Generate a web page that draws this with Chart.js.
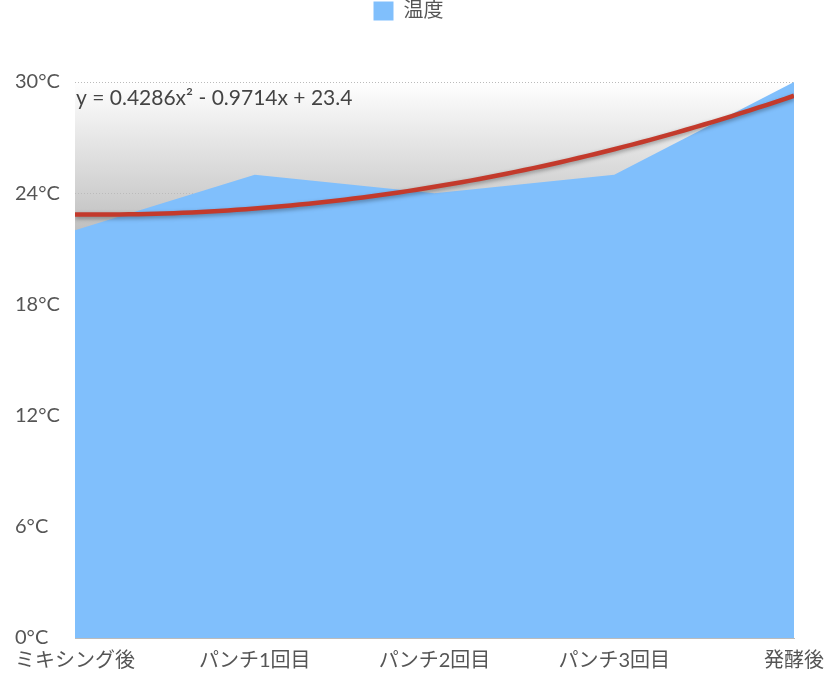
<!DOCTYPE html>
<html>
<head>
<meta charset="utf-8">
<script src="https://cdn.jsdelivr.net/npm/chart.js@4/dist/chart.umd.min.js"></script>
<style>
    html, body { margin: 0; padding: 0; background: #fff; }
    #wrap { width: 825px; height: 679px; }
</style>
</head>
<body>
<div id="wrap"><canvas id="grafico"></canvas></div>
<script>
const categorias = ["ミキシング後", "パンチ1回目", "パンチ2回目", "パンチ3回目", "発酵後"];
const temperaturas = [22, 25, 24, 25, 30];
const yTicks = [0, 6, 12, 18, 24, 30];
// coeficientes da linha de tendência mostrada no gráfico: a*x^2 + b*x + c
const tendencia = [0.4286, -0.9714, 23.4];
const textoTendencia = "y = 0.4286x² - 0.9714x + 23.4";

const fonte = "Lato, 'Noto Sans CJK JP', sans-serif";

const pontosTendencia = [];
for (let i = 0; i <= 80; i++) {
    const x = 1 + i * 0.05;
    pontosTendencia.push({ x, y: tendencia[0] * x * x + tendencia[1] * x + tendencia[2] });
}

const fundoGradiente = {
    id: "fundoGradiente",
    beforeDraw(chart) {
        const { ctx, chartArea, scales } = chart;
        const topo = scales.y.getPixelForValue(30);
        const base = scales.y.getPixelForValue(21);
        const grad = ctx.createLinearGradient(0, topo, 0, base);
        grad.addColorStop(0, "#ffffff");
        grad.addColorStop(0.15, "#f4f4f4");
        grad.addColorStop(1, "#b8b8b8");
        ctx.save();
        ctx.fillStyle = grad;
        ctx.fillRect(chartArea.left, topo, chartArea.right - chartArea.left, chartArea.bottom - topo);
        ctx.restore();
    }
};

const sombraLinha = {
    id: "sombraLinha",
    beforeDatasetDraw(chart, args) {
        if (args.index !== 1) return;
        const ctx = chart.ctx;
        ctx.save();
        ctx.shadowColor = "rgba(0, 0, 0, 0.35)";
        ctx.shadowBlur = 4;
        ctx.shadowOffsetY = 2;
    },
    afterDatasetDraw(chart, args) {
        if (args.index !== 1) return;
        chart.ctx.restore();
    },
    afterDatasetsDraw(chart) {
        const { ctx, chartArea } = chart;
        ctx.save();
        ctx.font = "21px " + fonte;
        ctx.fillStyle = "#444";
        ctx.textBaseline = "middle";
        ctx.fillText(textoTendencia, chartArea.left + 1, chartArea.top + 16);
        ctx.restore();
    }
};

const alturaLegenda = {
    id: "alturaLegenda",
    beforeInit(chart) {
        const fitOriginal = chart.legend.fit;
        chart.legend.fit = function () {
            fitOriginal.bind(chart.legend)();
            this.height = 82;
        };
    }
};

new Chart(document.getElementById("grafico"), {
    type: "line",
    data: {
        labels: categorias,
        datasets: [{
            label: "温度",
            data: temperaturas,
            fill: "start",
            backgroundColor: "#80bffc",
            borderColor: "#80bffc",
            borderWidth: 0,
            pointRadius: 0,
            tension: 0,
            order: 2
        }, {
            label: "tendencia",
            data: pontosTendencia,
            xAxisID: "xt",
            fill: false,
            borderColor: "#c33a2c",
            borderWidth: 4.5,
            pointRadius: 0,
            tension: 0,
            order: 1
        }]
    },
    options: {
        responsive: true,
        maintainAspectRatio: false,
        animation: false,
        layout: {
            padding: { left: 15, right: 23, top: 0, bottom: 0 }
        },
        plugins: {
            legend: {
                position: "top",
                labels: {
                    filter: item => item.datasetIndex === 0,
                    boxWidth: 20,
                    boxHeight: 19,
                    padding: 1,
                    color: "#555",
                    font: { family: fonte, size: 20 }
                }
            },
            tooltip: { enabled: false }
        },
        scales: {
            x: {
                offset: false,
                afterFit(axis) {
                    axis.height = 41;
                    axis.paddingLeft = 0;
                    axis.paddingRight = 31;
                },
                grid: { display: false, drawTicks: false },
                border: { display: true, color: "#bbb", width: 1 },
                ticks: {
                    color: "#555",
                    padding: 11,
                    maxRotation: 0,
                    autoSkip: false,
                    font: { family: fonte, size: 20 }
                }
            },
            xt: {
                type: "linear",
                display: false,
                min: 1,
                max: 5
            },
            y: {
                min: 0,
                max: 30,
                afterFit(axis) { axis.width = 60; },
                afterBuildTicks(axis) { axis.ticks = yTicks.map(v => ({ value: v })); },
                grid: {
                    color: "#bbb",
                    drawTicks: false
                },
                border: { display: false, dash: [1, 2] },
                ticks: {
                    color: "#555",
                    crossAlign: "far",
                    padding: 0,
                    font: { family: fonte, size: 20 },
                    callback: v => v + "°C"
                }
            }
        }
    },
    plugins: [fundoGradiente, sombraLinha, alturaLegenda]
});
</script>
</body>
</html>
